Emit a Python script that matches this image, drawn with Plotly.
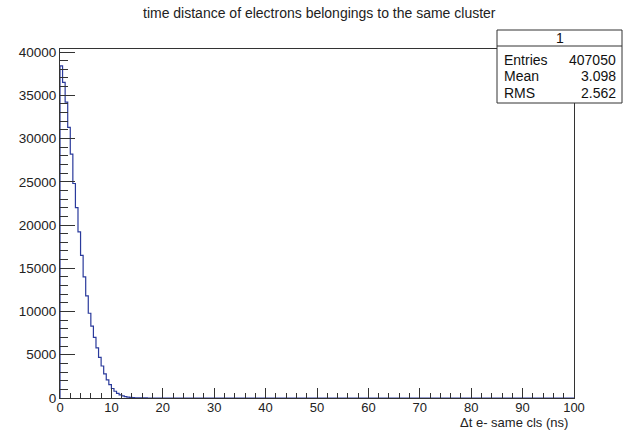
import plotly.graph_objects as go

# Histogram: 0.5 ns bins starting at 0
bin_width = 0.5
counts = [38400, 36500, 34200, 31300, 28200, 24800, 22000, 19200, 16500, 14000,
          11800, 9800, 8300, 7000, 5800, 4700, 3700, 2800, 2100, 1550,
          1100, 780, 540, 370, 250, 160, 100, 65, 40, 25,
          15, 9, 5, 3, 2, 1, 0, 0, 0, 0]
x_max = 100
y_max = 40350

stat_labels = ["Entries", "Mean", "RMS"]
stat_values = ["407050", "3.098", "2.562"]
hist_name = "1"
title_text = "time distance of electrons belongings to the same cluster"
x_title = "Δt e- same cls (ns)"
x_ticks = [0, 10, 20, 30, 40, 50, 60, 70, 80, 90, 100]
y_ticks = [0, 5000, 10000, 15000, 20000, 25000, 30000, 35000, 40000]

edges = [i * bin_width for i in range(len(counts))] + [len(counts) * bin_width, x_max]
ys = counts + [0, 0]

FONT = "Liberation Sans, Arial, Helvetica, sans-serif"
fig = go.Figure()
fig.add_trace(go.Scatter(x=[0] + edges, y=[0] + ys, mode="lines", line_shape="hv",
                         line=dict(color="#2a3a9c", width=1.2), hoverinfo="skip",
                         showlegend=False))

axis_common = dict(showgrid=False, zeroline=False, showline=True, mirror=True,
                   linecolor="#333", linewidth=1, ticks="inside", tickcolor="#333")
fig.update_xaxes(range=[0, x_max], tickvals=x_ticks, ticklen=10, ticklabelstandoff=-3,
                 tickfont=dict(family=FONT, size=13, color="#222"),
                 minor=dict(dtick=2, ticklen=5, ticks="inside", tickcolor="#333"),
                 **axis_common)
fig.update_yaxes(range=[0, y_max], tickvals=y_ticks, tickformat="d", ticklen=15,
                 tickfont=dict(family=FONT, size=13.5, color="#222"),
                 minor=dict(dtick=1000, ticklen=8, ticks="inside", tickcolor="#333"),
                 **axis_common)

W, H = 623, 431
L, R, T, B = 60, 49, 49, 33
pw, ph = W - L - R, H - T - B

def px(x):
    return (x - L) / pw

def py(y):
    return (H - B - y) / ph

# stats box
fig.add_shape(type="rect", xref="paper", yref="paper", x0=px(497), x1=px(622),
              y0=py(103), y1=py(30), line=dict(color="#333", width=1),
              fillcolor="white", layer="above")
fig.add_shape(type="line", xref="paper", yref="paper", x0=px(497), x1=px(622),
              y0=py(46), y1=py(46), line=dict(color="#333", width=1), layer="above")

ann = []
ann.append(dict(text=hist_name, x=px(560), y=py(38), xanchor="center", yanchor="middle"))
for i, (lab, val) in enumerate(zip(stat_labels, stat_values)):
    yy = py(60 + i * 16.5)
    ann.append(dict(text=lab, x=px(502), y=yy, xanchor="left", yanchor="middle"))
    ann.append(dict(text=val, x=px(618), y=yy, xanchor="right", yanchor="middle"))
for a in ann:
    a.update(xref="paper", yref="paper", showarrow=False,
             font=dict(family=FONT, size=14, color="#111"))
    fig.add_annotation(**a)

fig.add_annotation(text=title_text, xref="paper", yref="paper", x=px(319), y=py(13),
                   xanchor="center", yanchor="middle", showarrow=False,
                   font=dict(family=FONT, size=14, color="#222"))
fig.add_annotation(text=x_title, xref="paper", yref="paper", x=px(569), y=py(431),
                   xanchor="right", yanchor="bottom", showarrow=False, borderpad=0,
                   font=dict(family=FONT, size=13, color="#222"))

fig.update_layout(width=W, height=H, margin=dict(l=L, r=R, t=T, b=B),
                  plot_bgcolor="white", paper_bgcolor="white")
fig.write_html("out.html")
